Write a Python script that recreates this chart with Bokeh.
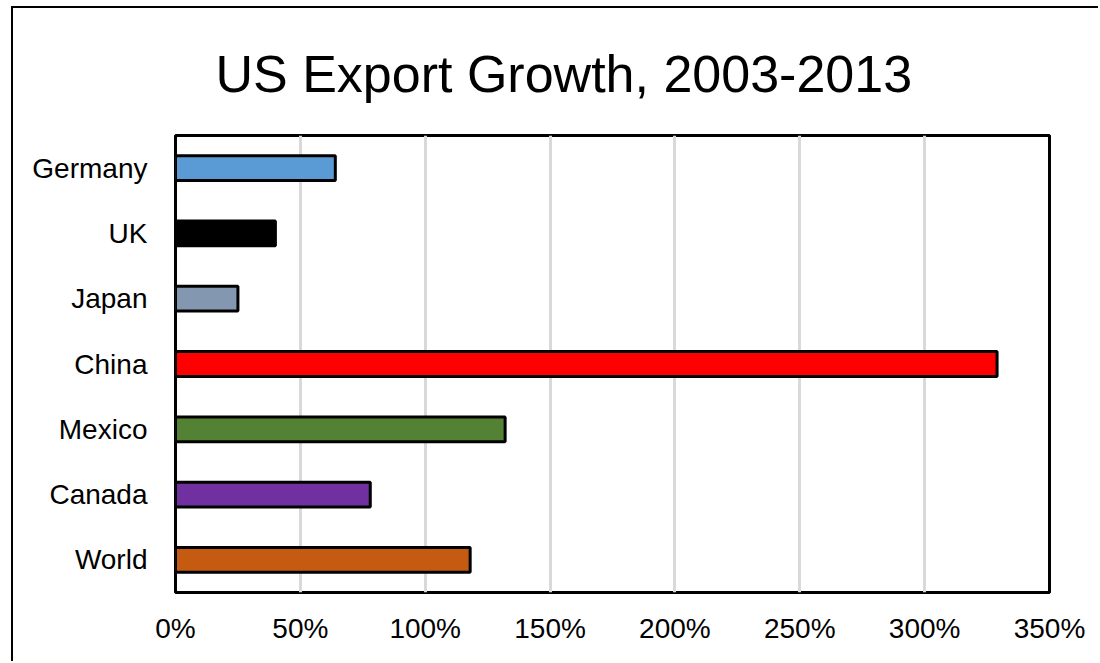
from bokeh.plotting import figure
from bokeh.models import FactorRange, Range1d, NumeralTickFormatter, FixedTicker, ColumnDataSource
from bokeh.embed import file_html
from bokeh.resources import INLINE

title_text = "US Export Growth, 2003-2013"
countries = ["World", "Canada", "Mexico", "China", "Japan", "UK", "Germany"]
growth = [1.18, 0.78, 1.32, 3.29, 0.25, 0.40, 0.64]
colors = ["#C55A11", "#7030A0", "#548235", "#FF0000", "#8497B0", "#000000", "#5B9BD5"]
x_ticks = [0, 0.5, 1.0, 1.5, 2.0, 2.5, 3.0, 3.5]

src = ColumnDataSource(dict(country=countries, growth=growth, color=colors))

FONT = "Liberation Sans"

p = figure(width=1087, height=655, output_backend="svg", toolbar_location=None,
           y_range=FactorRange(factors=countries, range_padding=0),
           x_range=Range1d(0, 3.5),
           min_border_left=162, min_border_right=51, min_border_top=127, min_border_bottom=71,
           title=title_text)

p.hbar(y="country", right="growth", left=0, height=0.38, fill_color="color",
       line_color="black", line_width=3, source=src)

p.title.text_font = FONT
p.title.text_font_size = "52px"
p.title.text_font_style = "normal"
p.title.align = "left"
p.title.offset = 40
p.title.standoff = 66
p.title.text_color = "black"

p.outline_line_color = "black"
p.outline_line_width = 3
p.outline_line_alpha = 1

p.xaxis.ticker = FixedTicker(ticks=x_ticks)
p.xaxis.formatter = NumeralTickFormatter(format="0%")
for ax in (p.xaxis, p.yaxis):
    ax.axis_line_color = None
    ax.major_tick_line_color = None
    ax.minor_tick_line_color = None
    ax.major_label_text_font = FONT
    ax.major_label_text_font_size = "28px"
    ax.major_label_text_color = "black"
p.xaxis.major_label_standoff = 14
p.yaxis.major_label_standoff = 22

p.ygrid.grid_line_color = None
p.xgrid.ticker = FixedTicker(ticks=x_ticks)
p.xgrid.grid_line_color = "#D9D9D9"
p.xgrid.grid_line_width = 3

p.styles = {"border-left": "2px solid black", "border-top": "2px solid black",
            "margin-left": "11px", "margin-top": "6px"}

open("out.html", "w").write(file_html(p, INLINE))
